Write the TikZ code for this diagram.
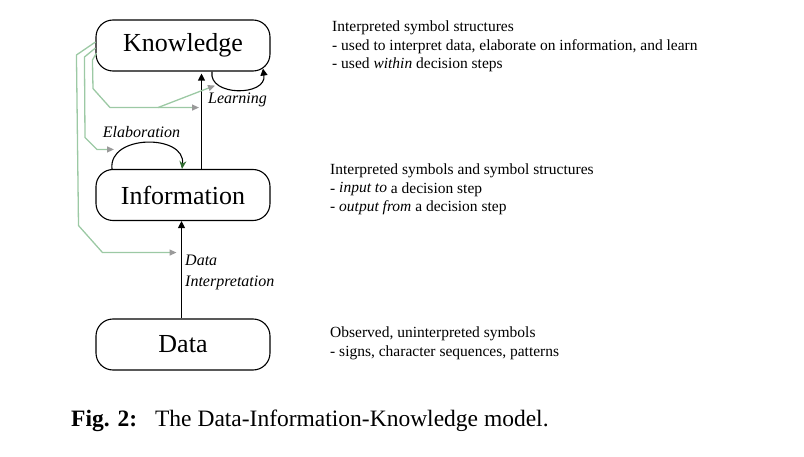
\documentclass[tikz,border=0pt]{standalone}
\usepackage{fontspec}
\setmainfont{Liberation Serif}
\usetikzlibrary{arrows.meta,positioning,calc}
\definecolor{sage}{HTML}{9CC9A4}
\definecolor{tipgray}{HTML}{9A9A9A}
\definecolor{elabgreen}{HTML}{2F6B2F}
\tikzset{stage/.style={draw=black,line width=1.1pt,rounded corners=17pt,minimum width=174pt,minimum height=51pt,inner sep=0pt,font=\fontsize{26}{30}\selectfont}, flow/.style={-{Triangle[length=7pt,width=7pt]},line width=1.1pt}, feed/.style={draw=sage,line width=1.3pt,-{Triangle[length=7pt,width=6pt,color=tipgray]}}, steplabel/.style={font=\fontsize{16}{21}\selectfont\itshape,inner sep=0pt}, note/.style={anchor=base west,align=left,inner sep=0pt,font=\fontsize{15.5}{18.5}\selectfont}}

\begin{document}
\begin{tikzpicture}[x=1pt,y=1pt]
\useasboundingbox (0,0) rectangle (804,456);
\node[stage] (know) at (183,410.5) {Knowledge};
\node[stage] (info) at (183,261) {Information};
\node[stage] (data) at (183,111.5) {Data};
\draw[flow] ([xshift=-1.5pt]data.north)--([xshift=-1.5pt]info.south);
\draw[flow] ([xshift=18.5pt]info.north)--([xshift=18.5pt,yshift=-2pt]know.south);
\draw[flow] ([xshift=29pt]know.south) .. controls +(-4,-25) and +(4,-28) .. ([xshift=80pt,yshift=3pt]know.south);
\draw[line width=1.1pt,-{Stealth[length=8pt,width=7pt,color=elabgreen]}] ([xshift=-71pt]info.north) .. controls +(-4,35) and +(4,35) .. ([xshift=-1pt]info.north);
% feedback from knowledge into the three steps
\coordinate (interp) at ([xshift=-6.5pt,yshift=-31.5pt]info.south);
\coordinate (elab) at ([xshift=-69pt,yshift=19.5pt]info.north);
\coordinate (lrn) at ([xshift=16pt,yshift=-36pt]know.south);
\coordinate (lrnloop) at ([xshift=32pt,yshift=-14pt]know.south);
\draw[feed] ([yshift=3.5pt]know.west)--++(-19,-13)--($(interp)+(-98,27)$)--($(interp)+(-74,0)$)--(interp);
\draw[feed] ([yshift=-2.5pt]know.west)--++(-11,-9)--($(elab)+(-29,12)$)--($(elab)+(-17,0)$)--(elab);
\draw[feed] ([xshift=1pt,yshift=-7.5pt]know.west)--++(-4,-7)--($(lrn)+(-106,19)$)--($(lrn)+(-89,0)$)--(lrn);
\draw[feed] ($(lrn)+(-41,0)$)--(lrnloop);
\node[steplabel] (lrntxt) at (237.5,356) {Learning};
\node[steplabel] (elabtxt) at (141.5,324) {Elaboration};
\node[steplabel,align=left,anchor=west] (interptxt) at (185,183.5) {Data\\Interpretation};
\node[note] (knownote) at (332,387) {Interpreted symbol structures\\ - used to interpret data, elaborate on information, and learn\\ - used \textit{within} decision steps};
\node[note] (infonote) at (330,244.5) {Interpreted symbols and symbol structures\\- \textit{input to} a decision step\\- \textit{output from} a decision step};
\node[note] (datanote) at (330,100) {Observed, uninterpreted symbols\\- signs, character sequences, patterns};
\node[anchor=base west,inner sep=0pt,font=\fontsize{23.5}{27}\selectfont] (caption) at (71,30) {\textbf{Fig. 2:}\hspace{18pt}The Data-Information-Knowledge model.};
\end{tikzpicture}
\end{document}
